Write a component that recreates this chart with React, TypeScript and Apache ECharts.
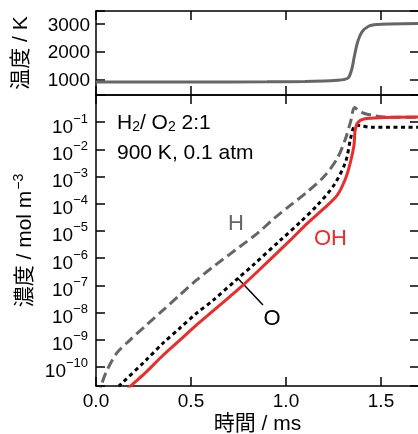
import React, { useEffect, useRef } from "react";
import * as echarts from "echarts";

// ---- data (time in ms) ----
const xTickValues = [0, 0.5, 1.0, 1.5];

const tempTime = [0, 0.5, 0.9, 1.1, 1.2, 1.27, 1.303, 1.329, 1.347, 1.359, 1.377, 1.4, 1.435, 1.479, 1.55, 1.7];
const tempK = [900, 903, 910, 922, 940, 965, 989, 1062, 1389, 1811, 2356, 2720, 2927, 2989, 3010, 3025];

// log10 of concentration / mol m^-3
const hTime = [0.015, 0.028, 0.054, 0.107, 0.177, 0.265, 0.353, 0.44, 0.528, 0.616, 0.791, 0.849, 0.937, 1.024, 1.112, 1.2, 1.27, 1.314, 1.34, 1.361, 1.385, 1.41, 1.463, 1.52, 1.6, 1.7];
const hLogConc = [-11.1, -10.68, -10.18, -9.51, -9.02, -8.46, -7.91, -7.36, -6.81, -6.32, -5.4, -5.09, -4.54, -4.05, -3.56, -3.0, -2.33, -1.59, -0.98, -0.46, -0.58, -0.67, -0.76, -0.81, -0.82, -0.82];

const oTime = [0.09, 0.124, 0.265, 0.353, 0.44, 0.528, 0.616, 0.738, 0.826, 0.972, 1.077, 1.165, 1.253, 1.314, 1.34, 1.358, 1.375, 1.393, 1.45, 1.7];
const oLogConc = [-10.9, -10.68, -9.74, -9.12, -8.58, -8.03, -7.55, -6.8, -6.26, -5.33, -4.66, -4.05, -3.31, -2.45, -1.59, -1.16, -1.11, -1.13, -1.19, -1.19];

const ohTime = [0.14, 0.186, 0.265, 0.353, 0.44, 0.528, 0.616, 0.703, 0.774, 0.849, 1.024, 1.112, 1.2, 1.27, 1.314, 1.34, 1.358, 1.363, 1.375, 1.41, 1.516, 1.7];
const ohLogConc = [-11.0, -10.68, -10.18, -9.57, -9.02, -8.46, -7.94, -7.42, -6.99, -6.5, -5.33, -4.72, -4.17, -3.68, -3.06, -2.45, -1.84, -1.35, -1.04, -0.88, -0.83, -0.81];

const zip = (a: number[], b: number[]) => a.map((v, i) => [v, b[i]]);

const FONT = "'Liberation Sans', Arial, 'Noto Sans CJK JP', sans-serif";
const BLACK = "#000";
const GRAY = "#666666";
const RED = "#ee2b2b";

export default function App() {
  const ref = useRef<HTMLDivElement>(null);
  useEffect(() => {
    if (!ref.current) return;
    const chart = echarts.init(ref.current, undefined, { renderer: "svg" });

    const axisLine = { show: true, onZero: false, lineStyle: { color: BLACK, width: 1.5 } };
    const axisTick = { show: true, inside: true, length: 9, lineStyle: { color: BLACK, width: 1.5 } };

    const xBase = (gridIndex: number, position: "top" | "bottom", showLabel: boolean) => ({
      type: "value",
      gridIndex,
      position,
      min: 0,
      max: 1.7,
      interval: 0.5,
      axisLine,
      axisTick,
      splitLine: { show: false },
      axisLabel: {
        show: showLabel,
        margin: 4,
        fontSize: 19,
        lineHeight: 21,
        color: BLACK,
        fontFamily: FONT,
        showMaxLabel: false,
        formatter: (v: number) =>
          xTickValues.some((t) => Math.abs(t - v) < 1e-6) ? v.toFixed(1) : "",
      },
    });

    const isInt = (v: number) => Math.abs(v - Math.round(v)) < 1e-6;

    const option: any = {
      animation: false,
      textStyle: { fontFamily: FONT },
      grid: [
        { left: 96, top: 11, width: 323, height: 84, outerBoundsMode: "none", containLabel: false },
        { left: 96, top: 95, width: 323, height: 291, outerBoundsMode: "none", containLabel: false },
      ],
      xAxis: [
        xBase(0, "bottom", false),
        xBase(0, "top", false),
        {
          ...xBase(1, "bottom", true),
          name: "時間 / ms",
          nameLocation: "middle",
          nameGap: 26,
          nameMoveOverlap: false,
          nameTextStyle: { fontSize: 21, lineHeight: 21, color: BLACK, fontFamily: FONT },
        },
        xBase(1, "top", false),
      ],
      yAxis: [
        {
          type: "value",
          gridIndex: 0,
          position: "left",
          min: 430,
          max: 3480,
          splitNumber: 3,
          axisLine,
          axisTick,
          splitLine: { show: false },
          axisLabel: {
            margin: 6,
            fontSize: 19,
            color: BLACK,
            fontFamily: FONT,
            formatter: (v: number) => (Math.abs(v % 1000) < 1e-6 ? String(v) : ""),
          },
          name: "温度 / K",
          nameLocation: "middle",
          nameRotate: 90,
          nameGap: 66,
          nameTextStyle: { fontSize: 21, color: BLACK, fontFamily: FONT },
        },
        {
          type: "value",
          gridIndex: 0,
          position: "right",
          min: 430,
          max: 3480,
          splitNumber: 3,
          axisLine,
          axisTick,
          splitLine: { show: false },
          axisLabel: { show: false },
        },
        {
          type: "value",
          gridIndex: 1,
          position: "left",
          min: -10.7,
          max: 0,
          splitNumber: 11,
          axisLine,
          axisTick,
          splitLine: { show: false },
          axisLabel: {
            margin: 8,
            color: BLACK,
            fontFamily: FONT,
            padding: [8, 0, 0, 0],
            formatter: (v: number) =>
              isInt(v) && v <= -1 && v >= -10 ? `{b|10}{s|−${Math.round(-v)}}` : "",
            rich: {
              b: { fontSize: 19, lineHeight: 29, color: BLACK, fontFamily: FONT },
              s: { fontSize: 13, lineHeight: 13, verticalAlign: "top", color: BLACK, fontFamily: FONT },
            },
          },
          name: "{n|濃度 / mol m}{s|−3}",
          nameLocation: "middle",
          nameRotate: 90,
          nameGap: 61,
          nameTextStyle: {
            color: BLACK,
            fontFamily: FONT,
            rich: {
              n: { fontSize: 21, lineHeight: 24, color: BLACK, fontFamily: FONT },
              s: { fontSize: 14, lineHeight: 14, verticalAlign: "top", color: BLACK, fontFamily: FONT, padding: [0, 0, 0, 1] },
            },
          },
        },
        {
          type: "value",
          gridIndex: 1,
          position: "right",
          min: -10.7,
          max: 0,
          splitNumber: 11,
          axisLine,
          axisTick,
          splitLine: { show: false },
          axisLabel: { show: false },
        },
      ],
      series: [
        {
          type: "line",
          xAxisIndex: 0,
          yAxisIndex: 0,
          data: zip(tempTime, tempK),
          showSymbol: false,
          smooth: 0.3,
          lineStyle: { color: GRAY, width: 3 },
        },
        {
          type: "line",
          name: "H",
          xAxisIndex: 2,
          yAxisIndex: 2,
          data: zip(hTime, hLogConc),
          showSymbol: false,
          smooth: 0.3,
          lineStyle: { color: GRAY, width: 3, type: [10, 5] },
        },
        {
          type: "line",
          name: "O",
          xAxisIndex: 2,
          yAxisIndex: 2,
          data: zip(oTime, oLogConc),
          showSymbol: false,
          smooth: 0.3,
          lineStyle: { color: BLACK, width: 3, type: [4, 3.5] },
        },
        {
          type: "line",
          name: "OH",
          xAxisIndex: 2,
          yAxisIndex: 2,
          data: zip(ohTime, ohLogConc),
          showSymbol: false,
          smooth: 0.3,
          lineStyle: { color: RED, width: 3 },
        },
      ],
      graphic: [
        {
          type: "text",
          left: 117,
          top: 111,
          style: {
            text: "{n|H}{sub|2}{n|/ O}{sub|2}{n| 2:1}",
            rich: {
              n: { fontSize: 21, lineHeight: 22, fill: BLACK, fontFamily: FONT, verticalAlign: "top" },
              sub: { fontSize: 14, lineHeight: 14, fill: BLACK, fontFamily: FONT, verticalAlign: "bottom" },
            },
          },
        },
        {
          type: "text",
          x: 117,
          y: 151.3,
          style: {
            text: "900 K, 0.1 atm",
            fontSize: 21,
            fill: BLACK,
            fontFamily: FONT,
            verticalAlign: "middle",
          },
        },
        {
          type: "text",
          x: 236,
          y: 222,
          style: { text: "H", fontSize: 22, fill: GRAY, fontFamily: FONT, align: "center", verticalAlign: "middle" },
        },
        {
          type: "text",
          x: 330.5,
          y: 237,
          style: { text: "OH", fontSize: 22, fill: RED, fontFamily: FONT, align: "center", verticalAlign: "middle" },
        },
        {
          type: "text",
          x: 272,
          y: 317,
          style: { text: "O", fontSize: 22, fill: BLACK, fontFamily: FONT, align: "center", verticalAlign: "middle" },
        },
        {
          type: "line",
          shape: { x1: 237.5, y1: 278, x2: 263, y2: 305 },
          style: { stroke: BLACK, lineWidth: 1.5 },
        },
      ],
    };

    chart.setOption(option);
    return () => chart.dispose();
  }, []);

  return (
    <div
      ref={ref}
      style={{ position: "fixed", left: 0, top: 0, width: 418, height: 434 }}
    />
  );
}
